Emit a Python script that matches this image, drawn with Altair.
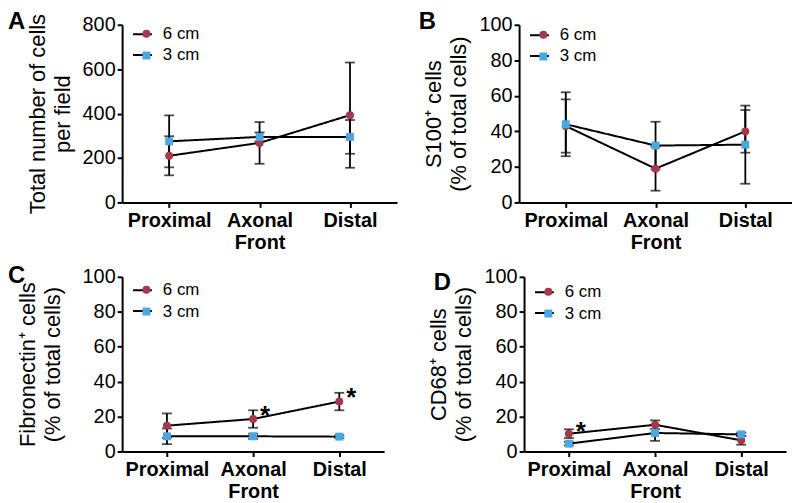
import altair as alt
import pandas as pd

FONT = "Liberation Sans"

regions = ["Proximal", "Axonal Front", "Distal"]
series = ["6 cm", "3 cm"]
colors = ["#a9364b", "#4aa7e0"]
shapes = ["circle", "square"]

# Panel A: total number of cells per field
a_6cm = [210, 268, 393]
a_6cm_err = [88, 94, 237]
a_3cm = [275, 295, 295]
a_3cm_err = [117, 20, 76]

# Panel B: S100+ cells (%)
b_6cm = [43, 19, 40]
b_6cm_err = [15, 12.4, 12]
b_3cm = [44, 32, 32.5]
b_3cm_err = [18, 13.4, 22]

# Panel C: Fibronectin+ cells (%)
c_6cm = [14.8, 18.6, 28.6]
c_6cm_err = [7, 5, 5]
c_3cm = [8.7, 8.7, 8.5]
c_3cm_err = [4.5, 1.5, 0.8]
c_star_regions = ["Axonal Front", "Distal"]
c_star_values = [25.5, 35.5]

# Panel D: CD68+ cells (%)
d_6cm = [10.2, 15.3, 6.4]
d_6cm_err = [2.5, 2.5, 2.5]
d_3cm = [4.5, 10.6, 9.8]
d_3cm_err = [1, 4.5, 1]
d_star_regions = ["Proximal"]
d_star_values = [16]


def make_df(v6, e6, v3, e3):
    rows = []
    for s, vals, errs in (("6 cm", v6, e6), ("3 cm", v3, e3)):
        for r, v, e in zip(regions, vals, errs):
            rows.append({"region": r, "series": s, "series_line": s,
                         "value": v, "lo": v - e, "hi": v + e})
    return pd.DataFrame(rows)


def panel(v6, e6, v3, e3, letter, ytitle, ymax, ystep, width, height,
          letter_x, letter_y, title_pad, legend_x, legend_y,
          star_regions=None, star_values=None):
    df = make_df(v6, e6, v3, e3)
    x_enc = alt.X("region:N", sort=regions,
                  scale=alt.Scale(type="point", domain=regions, padding=0.52),
                  axis=alt.Axis(title=None, labelAngle=0,
                                labelExpr="split(datum.label, ' ')",
                                labelFontWeight="bold", labelFontSize=20,
                                labelLineHeight=22, labelPadding=3,
                                tickSize=5))
    y_axis = alt.Axis(values=list(range(0, ymax + 1, ystep)), title=ytitle,
                      titleFontSize=22, titleFontWeight="normal",
                      titlePadding=title_pad, titleLineHeight=25,
                      labelFontSize=20, labelPadding=2, tickSize=5)
    y_scale = alt.Scale(domain=[0, ymax], nice=False)
    base = alt.Chart(df)
    rules = base.mark_rule(color="black", strokeWidth=1.8).encode(
        x=x_enc, y=alt.Y("lo:Q", scale=y_scale, axis=y_axis), y2="hi:Q")
    caps_lo = base.mark_tick(color="black", thickness=1.8, size=10,
                             orient="horizontal").encode(
        x=x_enc, y=alt.Y("lo:Q", scale=y_scale, axis=y_axis))
    caps_hi = base.mark_tick(color="black", thickness=1.8, size=10,
                             orient="horizontal").encode(
        x=x_enc, y=alt.Y("hi:Q", scale=y_scale, axis=y_axis))
    line = base.mark_line(color="black", strokeWidth=2).encode(
        x=x_enc, y=alt.Y("value:Q", scale=y_scale, axis=y_axis),
        strokeDash=alt.StrokeDash(
            "series_line:N",
            scale=alt.Scale(range=[[1, 0], [1, 0]]),
            legend=alt.Legend(title=None, orient="none",
                              legendX=legend_x, legendY=legend_y,
                              symbolType="stroke", symbolSize=361,
                              symbolStrokeColor="black",
                              symbolStrokeWidth=2, labelFontSize=17,
                              labelExpr="''", padding=0, rowPadding=2)))
    pt_legend = alt.Legend(title=None, orient="none",
                           legendX=legend_x + 6, legendY=legend_y + 1.5,
                           symbolSize=64, labelFontSize=17, labelOffset=8,
                           labelColor="black", padding=0, rowPadding=4,
                           symbolStrokeWidth=0)
    points = base.mark_point(filled=True, size=64, opacity=1).encode(
        x=x_enc, y=alt.Y("value:Q", scale=y_scale, axis=y_axis),
        color=alt.Color("series:N",
                        scale=alt.Scale(domain=series, range=colors),
                        legend=pt_legend),
        shape=alt.Shape("series:N",
                        scale=alt.Scale(domain=series, range=shapes),
                        legend=pt_legend))
    layers = [rules, caps_lo, caps_hi, line, points]
    if star_regions:
        sdf = pd.DataFrame({"region": star_regions, "value": star_values})
        stars = alt.Chart(sdf).mark_text(
            text="*", fontSize=26, fontWeight="bold", dx=12, dy=9,
            color="black").encode(
            x=x_enc, y=alt.Y("value:Q", scale=y_scale, axis=y_axis))
        layers.append(stars)
    ldf = pd.DataFrame({"t": [letter]})
    letter_mark = alt.Chart(ldf).mark_text(
        fontSize=24, fontWeight="bold", align="left",
        baseline="alphabetic", color="black").encode(
        text="t:N", x=alt.value(letter_x), y=alt.value(letter_y))
    layers.append(letter_mark)
    return alt.layer(*layers).properties(width=width, height=height)


pA = panel(a_6cm, a_6cm_err, a_3cm, a_3cm_err, "A",
           ["Total number of cells", "per field"], 800, 200, 277, 179,
           -115, 4, 8, 10, -1)
pB = panel(b_6cm, b_6cm_err, b_3cm, b_3cm_err, "B",
           ["S100⁺ cells", "(% of total cells)"], 100, 20, 275, 179,
           -101, 4, 9, 10, 0)
pC = panel(c_6cm, c_6cm_err, c_3cm, c_3cm_err, "C",
           ["Fibronectin⁺ cells", "(% of total cells)"], 100, 20, 264, 176,
           -115, 6, 18, 10, 3, c_star_regions, c_star_values)
pD = panel(d_6cm, d_6cm_err, d_3cm, d_3cm_err, "D",
           ["CD68⁺ cells", "(% of total cells)"], 100, 20, 264, 176,
           -91, 13, 9, 10, 5, d_star_regions, d_star_values)

res = dict(color="independent", shape="independent", strokeDash="independent")
row1 = alt.hconcat(pA, pB, spacing=22).resolve_scale(**res).resolve_legend(
    color="independent", shape="independent", strokeDash="independent")
row2 = alt.hconcat(pC, pD, spacing=43).resolve_scale(**res).resolve_legend(
    color="independent", shape="independent", strokeDash="independent")
chart = alt.vconcat(row1, row2, spacing=12).resolve_scale(**res).resolve_legend(
    color="independent", shape="independent", strokeDash="independent"
).properties(padding=0).configure_view(stroke=None).configure_axis(
    domainColor="black", domainWidth=2, tickColor="black", tickWidth=2,
    labelColor="black", titleColor="black", labelFont=FONT, titleFont=FONT,
    grid=False
).configure_text(font=FONT).configure_legend(labelFont=FONT)

chart.save("out.html", embed_options={"renderer": "svg", "actions": False})
